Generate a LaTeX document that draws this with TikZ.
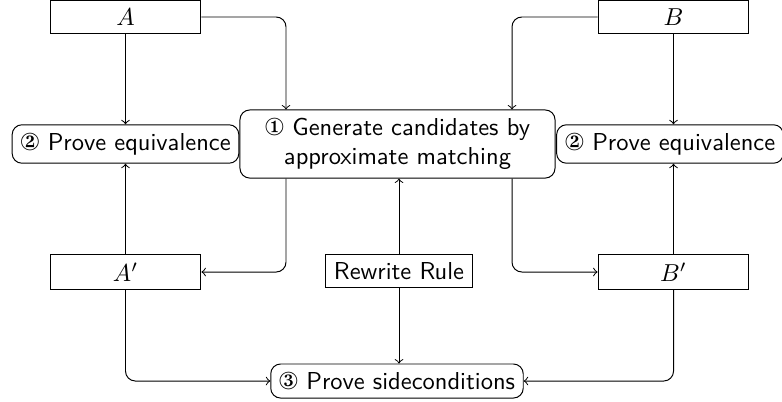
\documentclass[tikz,border=0pt]{standalone}
\usepackage{pifont}
\usetikzlibrary{calc}
\begin{document}
\begin{tikzpicture}[x=0.4082pt,y=-0.4082pt,
  sq/.style={draw, font=\sffamily, minimum width=61.6pt},
  rb/.style={draw, rounded corners, font=\sffamily, align=center},
  rr/.style={draw, font=\sffamily},
  arr/.style={->},
  conn/.style={->, rounded corners}]
\useasboundingbox (0,0) rectangle (782,401);
\node[sq] (A) at (125.5,17) {$A$};
\node[sq] (B) at (673.5,17) {$B$};
\node[rb] (L2) at (125.5,144) {\ding{173} Prove equivalence};
\node[rb] (R2) at (670,144) {\ding{173} Prove equivalence};
\node[rb, minimum width=128.6pt, minimum height=27.8pt] (C1) at (397.5,144) {\ding{172} Generate candidates by\\approximate matching};
\node[sq] (Ap) at (125.5,272) {$A'$};
\node[sq] (Bp) at (673.5,272) {$B'$};
\node[rr] (RR) at (399,271) {Rewrite Rule};
\node[rb] (P3) at (397,381) {\ding{174} Prove sideconditions};
\coordinate (ax) at (286,0);
\coordinate (bx) at (512,0);
\draw[arr] (A.south) -- (A.south |- L2.north);
\draw[arr] (B.south) -- (B.south |- R2.north);
\draw[conn] (A.east) -| (ax |- C1.north);
\draw[conn] (B.west) -| (bx |- C1.north);
\draw[conn] (ax |- C1.south) |- (Ap.east);
\draw[conn] (bx |- C1.south) |- (Bp.west);
\draw[arr] (Ap.north) -- (Ap.north |- L2.south);
\draw[arr] (Bp.north) -- (Bp.north |- R2.south);
\draw[arr] (RR.north) -- (RR.north |- C1.south);
\draw[arr] (RR.south) -- (RR.south |- P3.north);
\draw[conn] (Ap.south) |- (P3.west);
\draw[conn] (Bp.south) |- (P3.east);
\end{tikzpicture}
\end{document}
